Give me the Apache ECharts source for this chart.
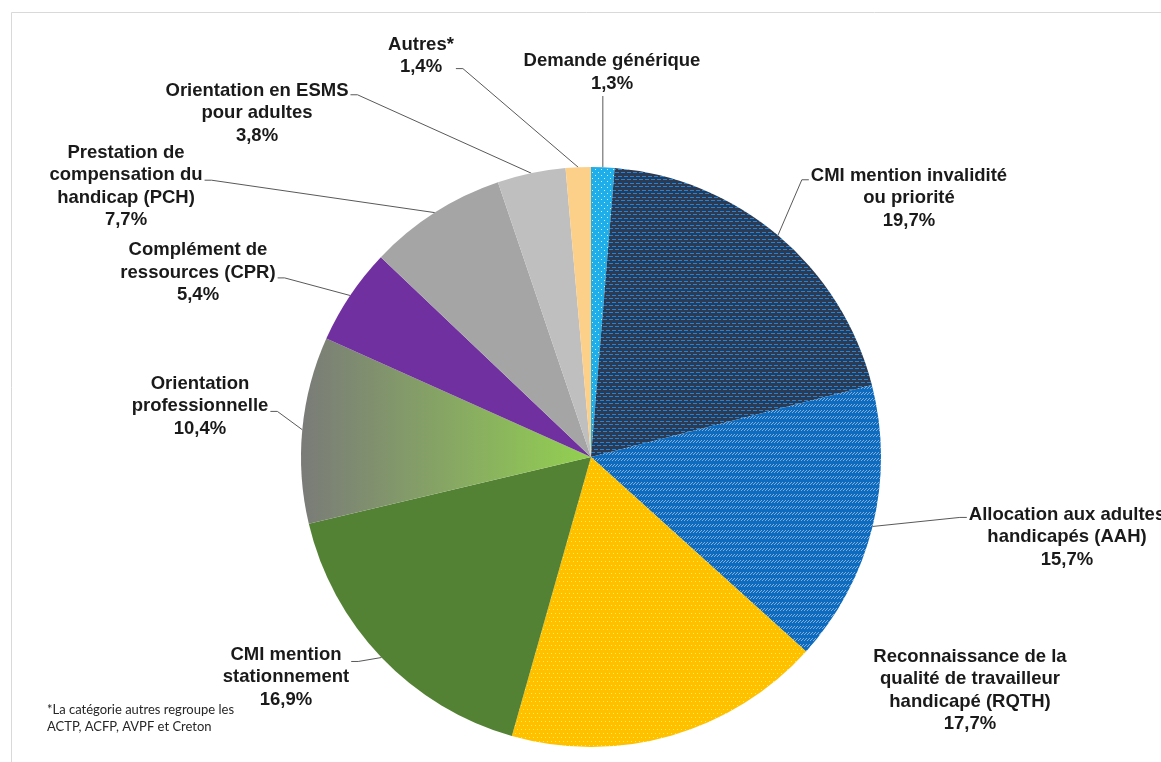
<!DOCTYPE html>
<html>
<head>
<meta charset="utf-8">
<script src="https://cdn.jsdelivr.net/npm/echarts@6/dist/echarts.min.js"></script>
<style>
  html, body { margin: 0; padding: 0; background: #ffffff; }
  #chart { width: 1161px; height: 762px; }
</style>
</head>
<body>
<div id="chart"></div>
<script>
// Répartition des demandes par type (%)
const categories = [
  'Demande générique',
  'CMI mention invalidité\nou priorité',
  'Allocation aux adultes\nhandicapés (AAH)',
  'Reconnaissance de la\nqualité de travailleur\nhandicapé (RQTH)',
  'CMI mention\nstationnement',
  'Orientation\nprofessionnelle',
  'Complément de\nressources (CPR)',
  'Prestation de\ncompensation du\nhandicap (PCH)',
  'Orientation en ESMS\npour adultes',
  'Autres*'
];
const shares = [1.3, 19.7, 15.7, 17.7, 16.9, 10.4, 5.4, 7.7, 3.8, 1.4];
const footnoteLines = ['*La catégorie autres regroupe les', 'ACTP, ACFP, AVPF et Creton'];

// Label placement: centre of each text block, side the leader line leaves from,
// and the height (fraction of the block) where it attaches.
const labelSpots = [
  { x: 612, y: 72.5, side: 'bottom' },
  { x: 909, y: 198, side: 'left', frac: 0.23 },
  { x: 1067, y: 537, side: 'left', frac: 0.21 },
  { x: 970, y: 690.5, side: 'none' },
  { x: 286, y: 677, side: 'right', frac: 0.27 },
  { x: 200, y: 406, side: 'right', frac: 0.58 },
  { x: 198, y: 272.5, side: 'right', frac: 0.58 },
  { x: 126, y: 186.5, side: 'right', frac: 0.43 },
  { x: 257, y: 113, side: 'right', frac: 0.23 },
  { x: 421, y: 56, side: 'right', frac: 0.78 }
];

// Small repeating textures
function tile(w, h, bg, paint) {
  const c = document.createElement('canvas');
  c.width = w; c.height = h;
  const g = c.getContext('2d');
  g.fillStyle = bg; g.fillRect(0, 0, w, h);
  paint(g);
  return { image: c, repeat: 'repeat' };
}
const navyDashes = tile(6, 7, '#2c3a52', g => {
  g.fillStyle = '#2184dc';
  g.fillRect(0, 1, 4, 1);
  g.fillRect(3, 4, 4, 1);
  g.fillRect(-3, 4, 4, 1);
});
const blueHatch = tile(3, 6, '#0d6cbf', g => {
  g.fillStyle = 'rgba(175,195,215,0.75)';
  g.fillRect(2, 2, 1, 1);
  g.fillRect(1, 3, 1, 1);
  g.fillRect(0, 4, 1, 1);
});
const yellowDots = tile(8, 8, '#ffc000', g => {
  g.fillStyle = '#fff04a';
  g.fillRect(1, 1, 1, 1);
  g.fillRect(5, 1, 1, 1);
  g.fillRect(3, 5, 1, 1);
  g.fillRect(7, 5, 1, 1);
});
const cyanDots = tile(6, 6, '#1eaeea', g => {
  g.fillStyle = 'rgba(255,255,255,0.85)';
  g.fillRect(1, 1, 1, 1);
  g.fillRect(4, 4, 1, 1);
});
const greyToGreen = {
  type: 'linear', x: 0, y: 0, x2: 1, y2: 0,
  colorStops: [{ offset: 0, color: '#7a7b78' }, { offset: 1, color: '#93d150' }]
};
const fills = [cyanDots, navyDashes, blueHatch, yellowDots, '#548235', greyToGreen,
  '#7030a0', '#a5a5a5', '#bfbfbf', '#fdd08a'];

const chart = echarts.init(document.getElementById('chart'), null, { renderer: 'canvas' });

chart.setOption({
  animation: false,
  backgroundColor: '#ffffff',
  graphic: [
    {
      type: 'rect', left: 9, top: 10, silent: true,
      shape: { width: 1200, height: 800 },
      style: { fill: 'none', stroke: '#d9d9d9', lineWidth: 1 }
    },
    {
      type: 'text', left: 47, top: 701, silent: true,
      style: {
        text: footnoteLines.join('\n'),
        font: '13px Lato', lineHeight: 17.5, fill: '#262626'
      }
    }
  ],
  series: [{
    type: 'pie',
    center: [591, 457],
    radius: 290,
    startAngle: 90,
    clockwise: true,
    avoidLabelOverlap: false,
    emphasis: { disabled: true },
    itemStyle: { borderWidth: 0 },
    label: {
      show: true,
      position: 'outside',
      formatter: p => p.name + '\n' + p.value.toFixed(1).replace('.', ',') + '%',
      fontFamily: 'Liberation Sans',
      fontWeight: 'bold',
      fontSize: 18.5,
      lineHeight: 22.5,
      color: '#1a1a1a',
      align: 'center'
    },
    labelLine: { show: true, lineStyle: { color: '#595959', width: 1 } },
    labelLayout: function (params) {
      const s = labelSpots[params.dataIndex];
      const w = params.labelRect.width, h = params.labelRect.height;
      const left = s.x - w / 2, top = s.y - h / 2;
      const out = { x: s.x, y: s.y, align: 'center', verticalAlign: 'middle' };
      const pts = params.labelLinePoints;
      if (pts && s.side !== 'none') {
        const start = pts[0];
        let end, elbow;
        if (s.side === 'bottom') {
          end = [start[0], top + h + 1];
          elbow = end;
        } else if (s.side === 'right') {
          end = [left + w + 2, top + s.frac * h];
          elbow = [end[0] + 7, end[1]];
        } else {
          end = [left - 2, top + s.frac * h];
          elbow = [end[0] - 7, end[1]];
        }
        out.labelLinePoints = [start, elbow, end];
      }
      return out;
    },
    data: categories.map((name, i) => ({
      name: name,
      value: shares[i],
      itemStyle: { color: fills[i] },
      labelLine: { show: labelSpots[i].side !== 'none' }
    }))
  }]
});
</script>
</body>
</html>
